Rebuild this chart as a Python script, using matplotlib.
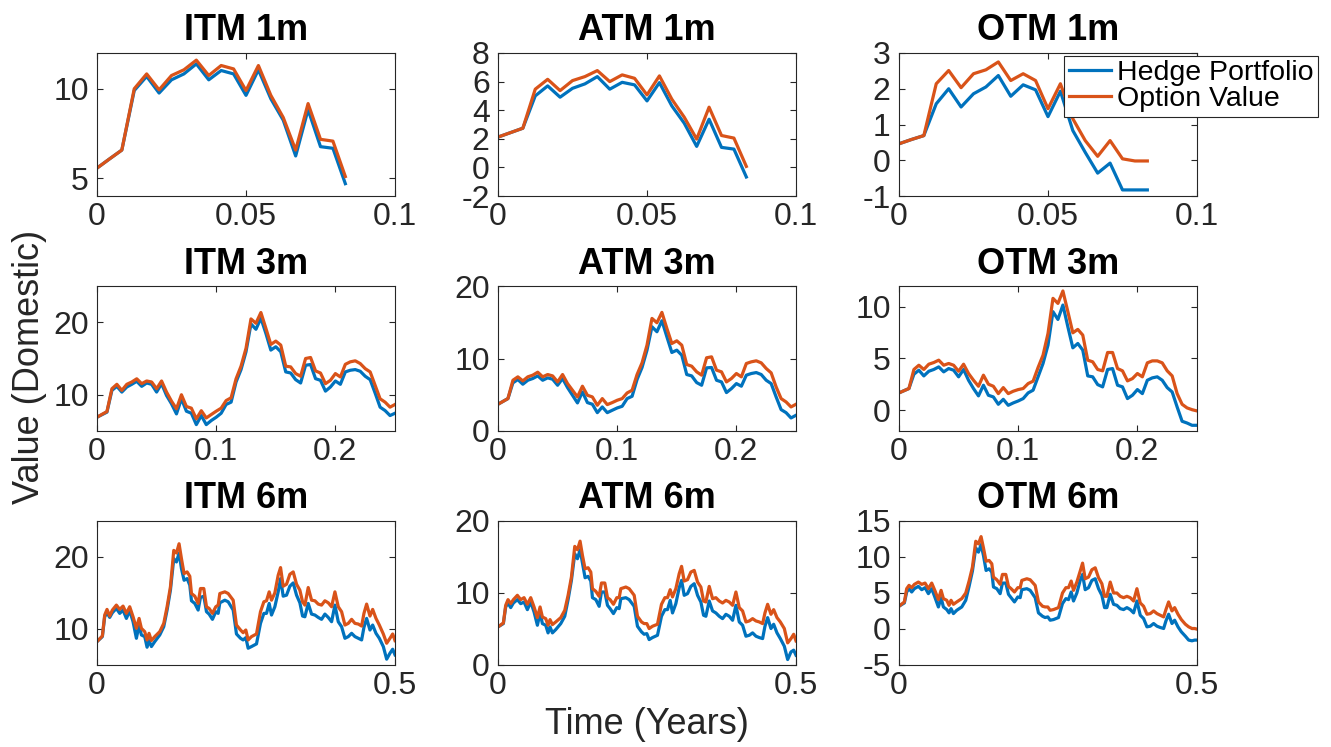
import numpy as np
import matplotlib
matplotlib.use("Agg")
import matplotlib.pyplot as plt

plt.rcParams['font.family'] = ['Liberation Sans', 'DejaVu Sans']
plt.rcParams['axes.unicode_minus'] = False

# ---------- data ----------
t_1m = np.linspace(0, 1/12, 21)
itm_1m_hedge = [5.56, 6.07, 6.57, 9.9, 10.69, 9.76, 10.5, 10.83, 11.39, 10.5, 11.02,
                10.83, 9.63, 11.06, 9.44, 8.24, 6.24, 8.83, 6.76, 6.67, 4.69]
itm_1m_option = [5.56, 6.07, 6.57, 10.0, 10.83, 9.94, 10.74, 11.06, 11.6, 10.74, 11.3,
                 11.11, 9.9, 11.3, 9.63, 8.39, 6.57, 9.17, 7.17, 7.07, 5.09]
atm_1m_hedge = [2.12, 2.43, 2.74, 5.0, 5.7, 4.91, 5.53, 5.84, 6.35, 5.47, 5.95,
                5.77, 4.65, 5.93, 4.3, 3.09, 1.47, 3.37, 1.4, 1.28, -0.67]
atm_1m_option = [2.12, 2.43, 2.74, 5.47, 6.16, 5.37, 6.07, 6.35, 6.77, 6.0, 6.47,
                 6.23, 5.07, 6.4, 4.77, 3.51, 1.98, 4.21, 2.23, 2.05, 0.07]
otm_1m_hedge = [0.46, 0.58, 0.69, 1.58, 2.0, 1.49, 1.86, 2.05, 2.37, 1.79, 2.11,
                1.97, 1.22, 1.93, 0.83, 0.22, -0.36, -0.08, -0.83, -0.83, -0.83]
otm_1m_option = [0.46, 0.58, 0.69, 2.14, 2.51, 2.03, 2.42, 2.53, 2.75, 2.23, 2.42,
                 2.23, 1.44, 2.14, 1.16, 0.55, 0.11, 0.55, 0.04, -0.02, -0.02]

t_3m = np.linspace(0, 0.25, 61)
itm_3m_hedge = [6.9, 7.25, 7.6, 10.6, 11.16, 10.37, 11.07, 11.44, 11.85, 11.16, 11.62,
                11.44, 10.37, 11.53, 9.9, 8.75, 7.36, 9.44, 7.73, 7.45, 5.88,
                7.13, 5.88, 6.44, 6.9, 7.45, 8.66, 8.98, 11.76, 13.47, 15.93,
                19.77, 19.03, 20.56, 18.47, 16.16, 16.62, 15.93, 13.15, 13.0, 12.08,
                11.62, 14.07, 14.17, 12.22, 11.99, 10.5, 11.07, 11.9, 11.44, 13.15,
                13.38, 13.47, 13.24, 12.55, 12.08, 10.23, 8.29, 7.82, 7.13, 7.45]
itm_3m_option = [6.9, 7.3, 7.68, 10.83, 11.44, 10.6, 11.44, 11.76, 12.2, 11.53, 11.9,
                 11.76, 10.83, 11.9, 10.37, 9.12, 8.06, 10.0, 8.38, 8.15, 6.67,
                 7.8, 6.8, 7.27, 7.73, 8.15, 9.2, 9.58, 12.2, 13.94, 16.4,
                 20.46, 19.86, 21.34, 19.17, 16.94, 17.4, 16.85, 13.94, 13.84, 12.92,
                 12.55, 15.0, 15.14, 13.29, 13.0, 11.53, 11.99, 12.92, 12.45, 14.2,
                 14.54, 14.68, 14.3, 13.6, 13.15, 11.3, 9.44, 8.98, 8.29, 8.66]
atm_3m_hedge = [3.69, 4.08, 4.47, 6.64, 7.1, 6.45, 7.0, 7.24, 7.6, 7.0, 7.33,
                7.14, 6.31, 7.24, 5.99, 4.93, 3.87, 5.39, 3.92, 3.69, 2.53,
                3.32, 2.53, 2.86, 3.18, 3.41, 4.47, 4.79, 7.1, 8.76, 11.15,
                14.38, 13.69, 15.21, 13.0, 10.83, 11.15, 10.46, 7.79, 7.6, 6.68,
                6.31, 8.71, 8.76, 7.0, 6.77, 5.3, 5.85, 6.54, 6.18, 7.7,
                7.93, 8.06, 7.79, 7.0, 6.54, 4.7, 2.95, 2.53, 1.8, 2.17]
atm_3m_option = [3.69, 4.08, 4.47, 7.0, 7.47, 6.91, 7.47, 7.7, 8.11, 7.47, 7.79,
                 7.6, 6.77, 7.79, 6.54, 5.62, 4.7, 6.18, 4.93, 4.7, 3.55,
                 4.47, 3.64, 3.92, 4.24, 4.47, 5.25, 5.62, 7.79, 9.4, 11.84,
                 15.53, 14.93, 16.36, 14.15, 12.07, 12.44, 11.84, 9.17, 8.94, 8.16,
                 7.7, 10.1, 10.23, 8.39, 8.16, 6.77, 7.24, 7.93, 7.47, 9.31,
                 9.54, 9.68, 9.4, 8.62, 8.02, 6.08, 4.47, 4.01, 3.32, 3.69]
otm_3m_hedge = [1.68, 1.89, 2.1, 3.48, 3.87, 3.32, 3.77, 3.94, 4.19, 3.71, 4.03,
                3.87, 3.23, 3.94, 2.9, 2.1, 1.39, 2.42, 1.45, 1.29, 0.58,
                1.06, 0.48, 0.71, 0.9, 1.13, 1.68, 1.94, 3.23, 4.52, 6.29,
                9.52, 8.77, 10.16, 8.06, 6.03, 6.45, 5.81, 3.32, 3.23, 2.48,
                2.26, 3.94, 4.03, 2.42, 2.26, 1.13, 1.45, 2.0, 1.61, 2.9,
                3.13, 3.23, 2.9, 2.19, 1.77, 0.32, -1.06, -1.23, -1.45, -1.45]
otm_3m_option = [1.68, 1.89, 2.1, 3.94, 4.35, 3.94, 4.45, 4.61, 4.84, 4.35, 4.52,
                 4.35, 3.77, 4.45, 3.55, 2.9, 2.32, 3.39, 2.52, 2.32, 1.61,
                 2.19, 1.61, 1.84, 2.0, 2.1, 2.58, 2.81, 4.13, 5.32, 7.42,
                 10.81, 10.32, 11.52, 9.52, 7.48, 7.81, 7.26, 4.84, 4.68, 3.94,
                 3.81, 5.58, 5.58, 4.03, 3.81, 2.84, 3.06, 3.55, 3.23, 4.58,
                 4.77, 4.77, 4.58, 3.81, 3.32, 1.61, 0.58, 0.23, 0.06, -0.06]

t_6m = [0, 0.009, 0.0129, 0.0168, 0.0213, 0.0258, 0.0325, 0.0381, 0.0437, 0.0493,
        0.0549, 0.0605, 0.0661, 0.0706, 0.0745, 0.0801, 0.084, 0.0873, 0.0913, 0.0969,
        0.1053, 0.112, 0.1176, 0.1232, 0.1288, 0.1333, 0.1377, 0.1417, 0.1461, 0.1512,
        0.1557, 0.1585, 0.1641, 0.1697, 0.1736, 0.1792, 0.1837, 0.1881, 0.1937, 0.1993,
        0.2033, 0.2061, 0.2145, 0.2201, 0.2285, 0.234, 0.2408, 0.2452, 0.2497, 0.2536,
        0.2592, 0.2676, 0.2743, 0.28, 0.2844, 0.2889, 0.2928, 0.2984, 0.304, 0.308,
        0.3124, 0.318, 0.3236, 0.3292, 0.3348, 0.3404, 0.3449, 0.3488, 0.3544, 0.36,
        0.3656, 0.3712, 0.3768, 0.3824, 0.388, 0.3936, 0.3992, 0.4048, 0.4104, 0.416,
        0.4216, 0.4272, 0.4328, 0.4384, 0.444, 0.4479, 0.4524, 0.458, 0.4625, 0.4681,
        0.4737, 0.4804, 0.486, 0.4916, 0.4961, 0.5]
itm_6m_hedge = [8.25, 8.94, 11.7, 12.26, 11.61, 12.26, 12.86, 12.17, 12.63, 11.47,
                12.53, 11.01, 8.71, 10.55, 9.17, 8.94, 7.47, 8.39, 7.56, 8.25,
                9.17, 10.32, 12.63, 15.39, 19.77, 19.31, 20.55, 18.39, 16.77, 17.0,
                16.08, 13.92, 13.55, 12.63, 14.38, 14.56, 12.4, 12.07, 11.34, 12.4,
                12.17, 13.64, 14.0, 13.78, 12.63, 9.31, 8.71, 8.48, 8.8, 7.33,
                7.56, 7.93, 10.78, 12.17, 12.17, 13.55, 11.94, 13.09, 15.16, 17.0,
                14.56, 14.7, 15.94, 16.4, 14.7, 13.64, 11.8, 11.7, 13.55, 12.07,
                11.94, 11.61, 11.34, 12.07, 11.61, 11.01, 13.32, 11.01, 10.32, 8.71,
                8.94, 9.4, 8.94, 8.71, 8.48, 10.23, 11.47, 9.86, 10.55, 9.4,
                8.71, 7.56, 5.81, 6.64, 7.19, 6.41]
itm_6m_option = [8.25, 9.03, 11.94, 12.72, 11.8, 12.63, 13.32, 12.72, 13.18, 12.17,
                 13.09, 11.7, 10.09, 11.47, 10.09, 9.63, 8.48, 9.4, 8.39, 8.94,
                 9.63, 10.78, 13.09, 15.85, 20.92, 20.55, 21.84, 19.77, 17.7, 17.93,
                 17.33, 14.93, 14.56, 13.55, 15.62, 15.62, 13.09, 12.86, 12.17, 13.09,
                 13.32, 14.93, 15.16, 14.93, 14.0, 10.55, 9.86, 9.49, 9.86, 8.48,
                 8.94, 9.31, 12.4, 13.78, 13.92, 15.16, 14.0, 15.02, 17.47, 18.53,
                 15.94, 16.22, 17.6, 17.93, 16.22, 15.39, 13.78, 13.32, 15.76, 14.0,
                 13.92, 13.46, 13.32, 13.92, 13.64, 13.09, 15.16, 13.09, 12.4, 10.55,
                 10.78, 11.34, 10.78, 10.69, 10.41, 12.17, 13.46, 11.8, 12.72, 11.47,
                 10.55, 9.31, 8.02, 8.71, 9.31, 8.39]
atm_6m_hedge = [5.29, 5.75, 8.06, 8.61, 7.97, 8.61, 9.08, 8.52, 8.75, 7.69,
                8.75, 7.37, 5.52, 7.23, 5.75, 5.52, 4.46, 5.29, 4.46, 4.92,
                5.75, 6.77, 9.08, 11.76, 15.45, 14.76, 16.0, 14.16, 12.12, 12.31,
                11.66, 9.35, 9.08, 8.15, 10.14, 10.14, 8.29, 7.83, 7.14, 7.97,
                7.83, 9.21, 9.35, 9.08, 8.15, 5.38, 4.6, 4.27, 4.36, 3.53,
                3.81, 4.13, 6.77, 7.69, 7.69, 8.98, 7.23, 8.52, 10.74, 11.76,
                9.68, 9.91, 10.92, 11.29, 9.68, 8.75, 6.91, 6.77, 8.89, 7.51,
                7.23, 6.77, 6.44, 7.04, 6.77, 6.21, 8.29, 5.98, 5.52, 4.0,
                4.13, 4.46, 4.0, 3.81, 3.67, 5.38, 6.58, 5.06, 5.66, 4.46,
                3.67, 2.61, 0.76, 1.82, 2.06, 1.36]
atm_6m_option = [5.29, 5.84, 8.29, 9.08, 8.52, 9.08, 9.68, 9.08, 9.35, 8.43,
                 9.35, 8.06, 6.58, 8.06, 6.67, 6.44, 5.52, 6.3, 5.61, 5.98,
                 6.58, 7.6, 9.68, 12.22, 16.47, 16.0, 17.2, 15.22, 13.37, 13.51,
                 12.91, 10.6, 10.23, 9.54, 11.39, 11.39, 9.35, 9.08, 8.43, 9.35,
                 9.35, 10.6, 10.83, 10.6, 9.68, 6.77, 5.98, 5.75, 5.75, 5.06,
                 5.38, 5.66, 8.43, 9.35, 9.35, 10.46, 9.45, 10.6, 12.68, 13.7,
                 11.66, 11.85, 12.91, 13.14, 11.52, 10.83, 8.89, 8.75, 10.92, 9.21,
                 9.35, 8.89, 8.61, 8.98, 8.75, 8.29, 10.14, 7.97, 7.51, 5.98,
                 6.12, 6.44, 6.12, 5.98, 5.75, 7.23, 8.43, 7.04, 7.69, 6.58,
                 5.98, 5.06, 3.07, 3.67, 4.27, 3.35]
otm_6m_hedge = [3.16, 3.62, 5.14, 5.6, 5.14, 5.6, 5.92, 5.46, 5.74, 4.91,
                5.6, 4.35, 3.06, 4.35, 3.06, 2.7, 2.24, 2.83, 2.14, 2.6,
                3.06, 3.99, 5.92, 8.04, 11.27, 10.67, 11.73, 10.21, 8.13, 8.36,
                7.9, 5.83, 5.6, 4.91, 6.38, 6.38, 4.82, 4.35, 3.76, 4.45,
                4.35, 5.46, 5.6, 5.37, 4.35, 2.24, 1.77, 1.59, 1.68, 1.22,
                1.31, 1.59, 3.53, 4.22, 4.08, 5.14, 3.89, 5.0, 6.75, 7.58,
                5.46, 5.74, 6.75, 6.98, 5.6, 4.68, 2.97, 2.97, 4.82, 3.43,
                3.29, 2.83, 2.7, 2.97, 2.7, 2.24, 3.89, 1.91, 1.45, 0.3,
                0.39, 0.76, 0.39, 0.21, 0.07, 1.13, 2.05, 0.76, 1.22, 0.3,
                -0.39, -0.99, -1.54, -1.64, -1.54, -1.54]
otm_6m_option = [3.16, 3.76, 5.6, 6.06, 5.74, 6.2, 6.52, 6.2, 6.38, 5.6,
                 6.38, 5.28, 4.08, 5.37, 4.22, 3.99, 3.29, 3.99, 3.43, 3.76,
                 4.22, 5.0, 6.66, 8.59, 12.19, 11.82, 12.83, 11.27, 9.42, 9.52,
                 9.06, 7.21, 6.84, 6.2, 7.58, 7.58, 5.92, 5.6, 5.14, 5.74,
                 5.74, 6.75, 6.98, 6.84, 6.06, 3.76, 3.16, 3.06, 3.06, 2.6,
                 2.7, 2.97, 5.0, 5.74, 5.74, 6.66, 5.37, 6.52, 8.04, 9.15,
                 6.98, 7.21, 8.23, 8.5, 7.12, 6.29, 4.54, 4.54, 6.52, 5.0,
                 5.0, 4.54, 4.35, 4.54, 4.35, 3.89, 5.6, 3.62, 3.16, 2.05,
                 2.14, 2.51, 2.14, 1.91, 1.68, 2.7, 3.76, 2.51, 2.97, 2.05,
                 1.31, 0.67, 0.3, 0.07, 0.07, -0.02]

titles = ["ITM 1m", "ATM 1m", "OTM 1m",
          "ITM 3m", "ATM 3m", "OTM 3m",
          "ITM 6m", "ATM 6m", "OTM 6m"]

# ---------- layout ----------
BLUE = '#0072BD'
ORANGE = '#D95319'
GREY = '#262626'

fig = plt.figure(figsize=(13.31, 7.47), dpi=100)
W, H = 1331, 747
col_left = [97, 498, 899]
row_box = [(53, 196), (286, 431), (521, 665)]

panels = [
    (t_1m, itm_1m_hedge, itm_1m_option, (4, 12), [5, 10]),
    (t_1m, atm_1m_hedge, atm_1m_option, (-2, 8), [-2, 0, 2, 4, 6, 8]),
    (t_1m, otm_1m_hedge, otm_1m_option, (-1, 3), [-1, 0, 1, 2, 3]),
    (t_3m, itm_3m_hedge, itm_3m_option, (5, 25), [10, 20]),
    (t_3m, atm_3m_hedge, atm_3m_option, (0, 20), [0, 10, 20]),
    (t_3m, otm_3m_hedge, otm_3m_option, (-2, 12), [0, 5, 10]),
    (t_6m, itm_6m_hedge, itm_6m_option, (5, 25), [10, 20]),
    (t_6m, atm_6m_hedge, atm_6m_option, (0, 20), [0, 10, 20]),
    (t_6m, otm_6m_hedge, otm_6m_option, (-5, 15), [-5, 0, 5, 10, 15]),
]
row_x = [((0, 0.1), [0, 0.05, 0.1], ["0", "0.05", "0.1"]),
         ((0, 0.25), [0, 0.1, 0.2], ["0", "0.1", "0.2"]),
         ((0, 0.5), [0, 0.5], ["0", "0.5"])]

axes = []
for k, (t, hedge, option, ylim, yt) in enumerate(panels):
    r, c = divmod(k, 3)
    top, bot = row_box[r]
    ax = fig.add_axes([col_left[c] / W, 1 - bot / H, 298 / W, (bot - top) / H])
    ax.plot(t, hedge, color=BLUE, lw=2.3, label="Hedge Portfolio")
    ax.plot(t, option, color=ORANGE, lw=2.3, label="Option Value")
    xlim, xt, xl = row_x[r]
    ax.set_xlim(*xlim)
    ax.set_ylim(*ylim)
    ax.set_xticks(xt, xl)
    ax.set_yticks(yt, [str(v) for v in yt])
    ax.tick_params(direction='in', top=True, right=True, length=4, width=0.8,
                   colors=GREY, labelsize=23, labelcolor=GREY)
    ax.tick_params(axis='x', pad=4)
    ax.tick_params(axis='y', pad=6)
    for s in ax.spines.values():
        s.set_color(GREY)
        s.set_linewidth(0.8)
    ax.set_title(titles[k], fontsize=26, fontweight='bold', pad=9)
    axes.append(ax)

leg = axes[2].legend(loc='upper right', bbox_to_anchor=(1318 / W, 1 - 56 / H),
                     bbox_transform=fig.transFigure, fontsize=20.5, frameon=True,
                     fancybox=False, framealpha=1, edgecolor=GREY, borderpad=0.15,
                     labelspacing=0.0, handlelength=1.5, handletextpad=0.2,
                     borderaxespad=0)
leg.get_frame().set_linewidth(0.8)

fig.text(30 / W, 1 - 367 / H, "Value (Domestic)", rotation=90, fontsize=26,
         color=GREY, ha='center', va='center')
fig.text(647 / W, 1 - 725 / H, "Time (Years)", fontsize=26, color=GREY,
         ha='center', va='center')

fig.savefig("out.png", dpi=100)
